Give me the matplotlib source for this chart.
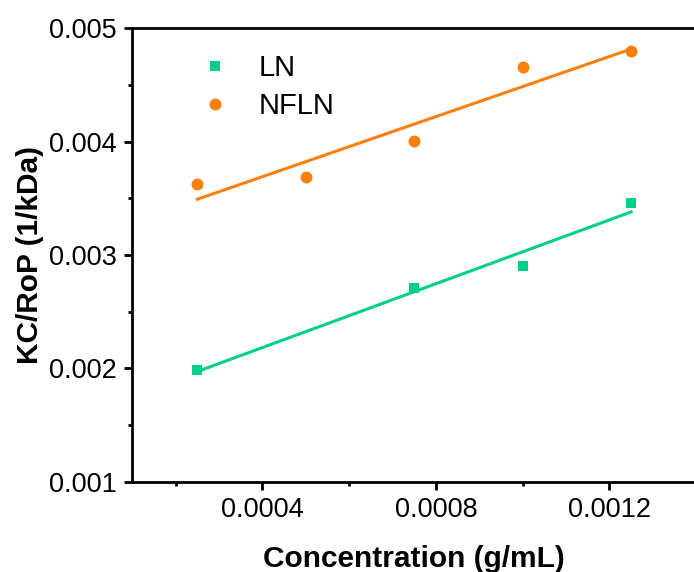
import numpy as np
import matplotlib
matplotlib.use("Agg")
import matplotlib.pyplot as plt
from matplotlib.ticker import MultipleLocator

plt.rcParams['font.family'] = ['Liberation Sans', 'DejaVu Sans']

# data
conc_ln = [0.00025, 0.00075, 0.00100, 0.00125]
kc_ln = [0.001986, 0.002712, 0.002904, 0.003457]
conc_nfln = [0.00025, 0.00050, 0.00075, 0.00100, 0.00125]
kc_nfln = [0.003628, 0.003687, 0.004007, 0.004658, 0.004800]

green = '#00cf8a'
orange = '#ff7f0e'

fig = plt.figure(figsize=(6.94, 5.72), dpi=100)
ax = fig.add_axes([0.1906, 0.1579, 0.8126, 0.7923])

ax.plot(conc_ln, kc_ln, 's', color=green, ms=7.2, mew=0, label='LN')
ax.plot(conc_nfln, kc_nfln, 'o', color=orange, ms=8.6, mew=0, label='NFLN')

# linear fits
for xs, ys, c in [(conc_ln, kc_ln, green), (conc_nfln, kc_nfln, orange)]:
    p = np.polyfit(xs, ys, 1)
    xf = np.array([min(xs), max(xs)])
    ax.plot(xf, np.polyval(p, xf), '-', color=c, lw=2.2)

ax.set_xlim(0.0001, 0.0014)
ax.set_ylim(0.001, 0.005)
ax.xaxis.set_minor_locator(MultipleLocator(0.0002))
ax.yaxis.set_minor_locator(MultipleLocator(0.0005))
ax.set_xticks([0.0004, 0.0008, 0.0012])
ax.set_xticklabels(['0.0004', '0.0008', '0.0012'])
ax.set_yticks([0.001, 0.002, 0.003, 0.004, 0.005])
ax.set_yticklabels(['0.001', '0.002', '0.003', '0.004', '0.005'])

for s in ax.spines.values():
    s.set_linewidth(2)
ax.spines['right'].set_visible(False)
ax.tick_params(which='major', direction='out', length=6, width=2, labelsize=19.5, pad=5)
ax.tick_params(which='minor', direction='out', length=3, width=2)
ax.tick_params(top=False, right=False, which='both')

ax.set_xlabel('Concentration (g/mL)', fontsize=21.5, fontweight='bold', labelpad=16)
ax.set_ylabel('KC/RoP (1/kDa)', fontsize=21.5, fontweight='bold', labelpad=4)

ax.legend(loc='upper left', bbox_to_anchor=(0.10, 0.97), frameon=False, fontsize=21,
          handlelength=1.0, handletextpad=1.0, labelspacing=0.35, borderaxespad=0)

fig.savefig('out.png', dpi=100)
